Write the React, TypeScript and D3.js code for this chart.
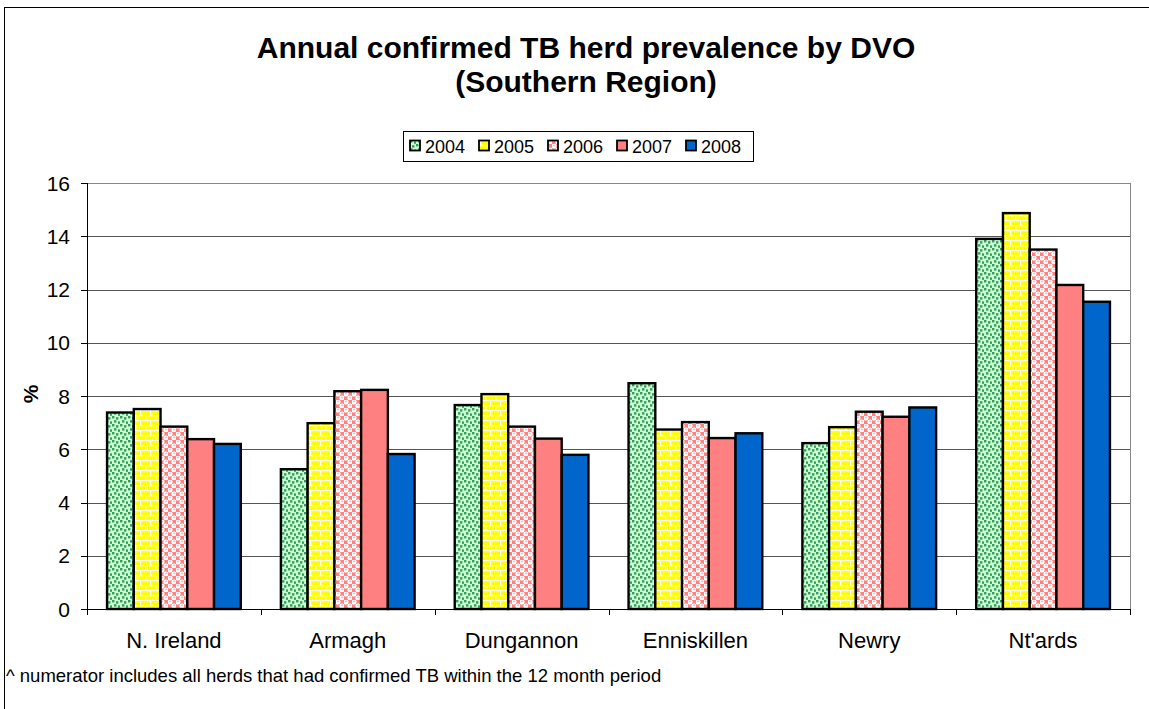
import React from "react";
import * as d3 from "d3";

const categories = ["N. Ireland", "Armagh", "Dungannon", "Enniskillen", "Newry", "Nt'ards"];
const seriesNames = ["2004", "2005", "2006", "2007", "2008"];
const v2004 = [7.38, 5.25, 7.66, 8.48, 6.23, 13.9];
const v2005 = [7.51, 6.98, 8.07, 6.74, 6.83, 14.87];
const v2006 = [6.85, 8.18, 6.85, 7.02, 7.41, 13.5];
const v2007 = [6.38, 8.23, 6.4, 6.42, 7.22, 12.17];
const v2008 = [6.2, 5.82, 5.79, 6.6, 7.57, 11.54];
const seriesValues = [v2004, v2005, v2006, v2007, v2008];
const yTicks = [0, 2, 4, 6, 8, 10, 12, 14, 16];

const fills = ["url(#p2004)", "url(#p2005)", "url(#p2006)", "#ff8080", "#0066cc"];
const W = 1149, H = 709;
const plot = { left: 87, right: 1130, top: 183, bottom: 609 };
const font = "Arial, 'Liberation Sans', Helvetica, sans-serif";

export default function App() {
  const x0 = d3.scaleBand<string>().domain(categories).range([plot.left, plot.right]).paddingInner(0).paddingOuter(0);
  const bw = x0.bandwidth();
  const barW = bw / 6.5;
  const x1 = d3.scaleBand<string>().domain(seriesNames).range([0.75 * barW, 0.75 * barW + 5 * barW]);
  const y = d3.scaleLinear().domain([0, 16]).range([plot.bottom, plot.top]);

  const legendX = [410, 479, 548, 617, 686];

  return (
    <svg width={W} height={H} style={{ display: "block", position: "absolute", left: 0, top: 0 }} fontFamily={font}>
      <defs>
        <pattern id="p2004" width="8" height="8" patternUnits="userSpaceOnUse">
          <rect width="8" height="8" fill="#ccffcc" />
          <rect x="0" y="0" width="2.4" height="2.4" fill="#339966" />
          <rect x="4" y="1.2" width="2.4" height="2.4" fill="#339966" />
          <rect x="2" y="4.2" width="2.4" height="2.4" fill="#339966" />
          <rect x="6" y="5.4" width="2.4" height="2.4" fill="#339966" />
        </pattern>
        <pattern id="p2005" width="10" height="10" patternUnits="userSpaceOnUse">
          <rect width="10" height="10" fill="#ffff00" />
          <rect x="0" y="0" width="10" height="1.2" fill="#ffffff" />
          <rect x="0" y="5" width="10" height="1.2" fill="#ffffff" />
          <rect x="0" y="0" width="1.2" height="5" fill="#ffffff" />
          <rect x="5" y="5" width="1.2" height="5" fill="#ffffff" />
        </pattern>
        <pattern id="p2006" width="8" height="8" patternUnits="userSpaceOnUse">
          <rect width="8" height="8" fill="#ff8080" />
          <circle cx="2" cy="2" r="2.6" fill="#ffffff" />
          <circle cx="6" cy="6" r="2.6" fill="#ffffff" />
          <circle cx="2" cy="1.4" r="0.9" fill="#ffb3b3" />
          <circle cx="6" cy="5.4" r="0.9" fill="#ffb3b3" />
        </pattern>
      </defs>
      <rect x={0} y={0} width={W} height={H} fill="#ffffff" />
      <rect x={4.5} y={7.5} width={W + 20} height={H + 20} fill="none" stroke="#000" strokeWidth={1} />

      <text x={586} y={58} textAnchor="middle" fontSize={30} fontWeight="bold">Annual confirmed TB herd prevalence by DVO</text>
      <text x={586} y={92} textAnchor="middle" fontSize={30} fontWeight="bold">(Southern Region)</text>

      {/* legend */}
      <rect x={403.5} y={131.5} width={350} height={30} fill="#fff" stroke="#000" strokeWidth={1} />
      {seriesNames.map((s, i) => (
        <g key={s}>
          <rect x={legendX[i]} y={140.5} width={10} height={10} fill={fills[i]} stroke="#000" strokeWidth={1.8} />
          <text x={legendX[i] + 15} y={152.5} fontSize={18}>{s}</text>
        </g>
      ))}

      {/* gridlines */}
      {yTicks.filter((t) => t > 0).map((t) => (
        <line key={t} x1={plot.left} x2={plot.right} y1={Math.round(y(t)) + 0.5} y2={Math.round(y(t)) + 0.5} stroke={t === 16 ? "#888" : "#555"} strokeWidth={1} />
      ))}
      <line x1={plot.right + 0.5} x2={plot.right + 0.5} y1={plot.top} y2={plot.bottom} stroke="#888" />

      {/* bars */}
      {seriesValues.map((vals, si) => (
        <g key={si}>
          {vals.map((v, ci) => (
            <rect
              key={ci}
              x={(x0(categories[ci]) as number) + (x1(seriesNames[si]) as number)}
              y={y(v)}
              width={x1.bandwidth()}
              height={y(0) - y(v)}
              fill={fills[si]}
              stroke="#000"
              strokeWidth={2.4}
            />
          ))}
        </g>
      ))}

      {/* axes */}
      <line x1={plot.left + 0.5} x2={plot.left + 0.5} y1={plot.top} y2={plot.bottom} stroke="#000" />
      <line x1={plot.left} x2={plot.right + 1} y1={plot.bottom + 0.5} y2={plot.bottom + 0.5} stroke="#000" />
      {yTicks.map((t) => (
        <g key={t}>
          <line x1={plot.left - 6} x2={plot.left} y1={Math.round(y(t)) + 0.5} y2={Math.round(y(t)) + 0.5} stroke="#000" />
          <text x={plot.left - 17} y={y(t) + 7.5} textAnchor="end" fontSize={21}>{t}</text>
        </g>
      ))}
      {d3.range(categories.length + 1).map((i) => {
        const xx = Math.round(plot.left + i * bw) + 0.5;
        return <line key={i} x1={xx} x2={xx} y1={plot.bottom} y2={plot.bottom + 6} stroke="#000" />;
      })}
      {categories.map((c) => (
        <text key={c} x={(x0(c) as number) + bw / 2} y={648} textAnchor="middle" fontSize={22}>{c}</text>
      ))}
      <text transform={`translate(38,394) rotate(-90)`} textAnchor="middle" fontSize={21} fontWeight="bold">%</text>

      <text x={6} y={682} fontSize={18.5}>^ numerator includes all herds that had confirmed TB within the 12 month period</text>
    </svg>
  );
}
